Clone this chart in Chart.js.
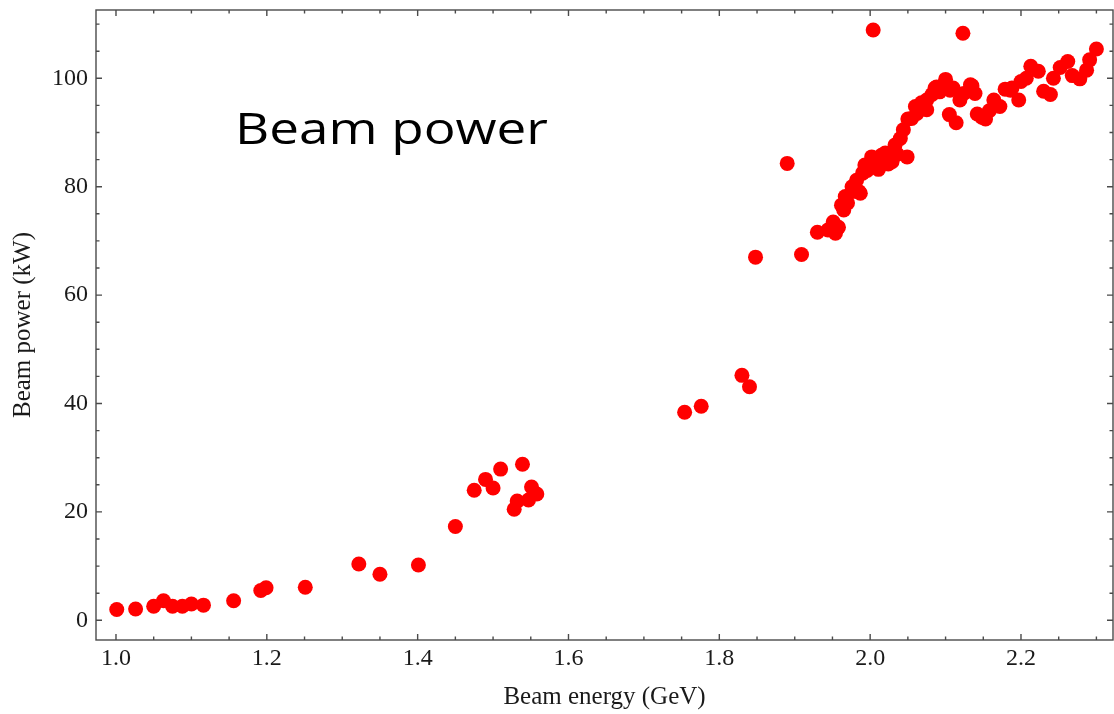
<!DOCTYPE html>
<html>
<head>
<meta charset="utf-8">
<script src="https://cdn.jsdelivr.net/npm/chart.js@4.4.1/dist/chart.umd.min.js"></script>
<style>
  html, body { margin: 0; padding: 0; background: #fff; }
  canvas { display: block; }
</style>
</head>
<body>
<canvas id="powerChart" width="1114" height="714"></canvas>
<script>
// beam energy (GeV) against measured beam power (kW)
const energyGeV = [
  1.001, 1.026, 1.050, 1.063, 1.075, 1.088, 1.100, 1.116, 1.156, 1.192,
  1.199, 1.251, 1.322, 1.350, 1.401, 1.450, 1.475, 1.490, 1.500, 1.510,
  1.539, 1.528, 1.532, 1.547, 1.551, 1.558, 1.754, 1.776, 1.830, 1.840,
  1.848, 1.890, 1.909, 1.930, 1.944, 1.951, 1.954, 1.958, 1.962, 1.965,
  1.967, 1.970, 1.976, 1.976, 1.982, 1.985, 1.987, 1.990, 1.993, 1.996,
  2.002, 2.004, 2.008, 2.011, 2.015, 2.020, 2.024, 2.029, 2.033, 2.036,
  2.040, 2.044, 2.049, 2.050, 2.055, 2.060, 2.062, 2.068, 2.075, 2.075,
  2.082, 2.086, 2.088, 2.092, 2.100, 2.105, 2.106, 2.110, 2.114, 2.119,
  2.123, 2.124, 2.133, 2.135, 2.139, 2.142, 2.148, 2.153, 2.158, 2.164,
  2.172, 2.179, 2.186, 2.188, 2.197, 2.200, 2.207, 2.213, 2.223, 2.230,
  2.239, 2.243, 2.252, 2.262, 2.268, 2.278, 2.287, 2.291, 2.300
];
const powerKW = [
  2.0, 2.1, 2.6, 3.6, 2.6, 2.6, 3.0, 2.8, 3.6, 5.5,
  6.0, 6.1, 10.4, 8.5, 10.2, 17.3, 24.0, 26.0, 24.4, 27.9,
  28.8, 20.5, 22.0, 22.2, 24.6, 23.3, 38.4, 39.5, 45.2, 43.1,
  67.0, 84.3, 67.5, 71.6, 72.0, 73.5, 71.4, 72.5, 76.6, 75.7,
  78.2, 77.0, 80.0, 79.1, 81.2, 79.1, 78.8, 82.5, 84.0, 83.0,
  85.5, 108.9, 84.5, 83.2, 85.8, 86.2, 84.2, 84.6, 87.7, 86.0,
  88.9, 90.5, 85.5, 92.5, 92.6, 94.8, 93.5, 95.5, 94.2, 96.0,
  97.0, 98.2, 98.4, 97.5, 99.8, 93.3, 97.8, 98.2, 91.8, 96.0,
  108.3, 97.2, 98.8, 98.6, 97.2, 93.4, 92.8, 92.5, 94.0, 96.0,
  94.8, 98.0, 97.8, 98.2, 96.0, 99.4, 100.0, 102.2, 101.3, 97.6,
  97.0, 100.0, 102.0, 103.1, 100.5, 99.9, 101.5, 103.4, 105.4
];
const energyTicks = [1.0, 1.2, 1.4, 1.6, 1.8, 2.0, 2.2];
const powerTicks = [0, 20, 40, 60, 80, 100];

const points = energyGeV.map((e, i) => ({ x: e, y: powerKW[i] }));

const serif = "'Liberation Serif', 'Times New Roman', serif";

// keep the plot box fixed: no extra room for half-labels at the ends
function fixBox(s, size) {
  if (s.isHorizontal()) s.height = size; else s.width = size;
  s.paddingTop = s.paddingBottom = s.paddingLeft = s.paddingRight = 0;
}

// Mathematica-like frame: box on all sides with inward major/minor ticks
const framePlugin = {
  id: 'frame',
  afterDraw(chart) {
    const { ctx, chartArea: a } = chart;
    const xs = chart.scales.x, ys = chart.scales.y;
    ctx.save();
    ctx.strokeStyle = '#4a4a4a';
    ctx.lineWidth = 1.4;
    ctx.strokeRect(a.left, a.top, a.right - a.left, a.bottom - a.top);
    ctx.beginPath();
    for (let k = 19; k <= 47; k++) {
      const px = xs.getPixelForValue(k * 0.05);
      if (px <= a.left + 1 || px >= a.right - 1) continue;
      const len = k % 4 === 0 ? 6 : 3.5;
      ctx.moveTo(px, a.bottom); ctx.lineTo(px, a.bottom - len);
      ctx.moveTo(px, a.top); ctx.lineTo(px, a.top + len);
    }
    for (let k = 0; k <= 23; k++) {
      const py = ys.getPixelForValue(k * 5);
      if (py <= a.top + 1 || py >= a.bottom - 1) continue;
      const len = k % 4 === 0 ? 6 : 3.5;
      ctx.moveTo(a.left, py); ctx.lineTo(a.left + len, py);
      ctx.moveTo(a.right, py); ctx.lineTo(a.right - len, py);
    }
    ctx.stroke();

    // caption inside the plot
    ctx.fillStyle = '#000';
    ctx.font = "43px 'Open Sans', sans-serif";
    ctx.textBaseline = 'alphabetic';
    const label = 'Beam power';
    const w = ctx.measureText(label).width;
    ctx.translate(235, 144);
    ctx.scale(313 / w, 1);
    ctx.fillText(label, 0, 0);
    ctx.restore();
  }
};

new Chart(document.getElementById('powerChart'), {
  type: 'scatter',
  data: {
    datasets: [{
      data: points,
      pointRadius: 7.5,
      pointHoverRadius: 7.5,
      pointBackgroundColor: '#ff0000',
      pointBorderWidth: 0
    }]
  },
  options: {
    responsive: false,
    animation: false,
    devicePixelRatio: 1,
    layout: { autoPadding: false, padding: { top: 10, right: 1, left: 0, bottom: 0 } },
    plugins: { legend: { display: false }, tooltip: { enabled: false } },
    scales: {
      x: {
        type: 'linear',
        min: 0.9735,
        max: 2.322,
        afterBuildTicks: (s) => { s.ticks = energyTicks.map(v => ({ value: v })); },
        afterFit: (s) => fixBox(s, 74),
        grid: { display: false, drawTicks: false },
        border: { display: false },
        ticks: {
          padding: 4,
          color: '#1a1a1a',
          font: { family: serif, size: 24 },
          callback: (v) => Number(v).toFixed(1)
        },
        title: {
          display: true,
          text: 'Beam energy (GeV)',
          color: '#1a1a1a',
          font: { family: serif, size: 25 },
          padding: { top: 0, bottom: 2 }
        }
      },
      y: {
        type: 'linear',
        min: -3.63,
        max: 112.6,
        afterBuildTicks: (s) => { s.ticks = powerTicks.map(v => ({ value: v })); },
        afterFit: (s) => fixBox(s, 96),
        grid: { display: false, drawTicks: false },
        border: { display: false },
        ticks: {
          padding: 8,
          color: '#1a1a1a',
          font: { family: serif, size: 24 }
        },
        title: {
          display: true,
          text: 'Beam power (kW)',
          color: '#1a1a1a',
          font: { family: serif, size: 25 },
          padding: { top: 8, bottom: 0 }
        }
      }
    }
  },
  plugins: [framePlugin]
});
</script>
</body>
</html>
